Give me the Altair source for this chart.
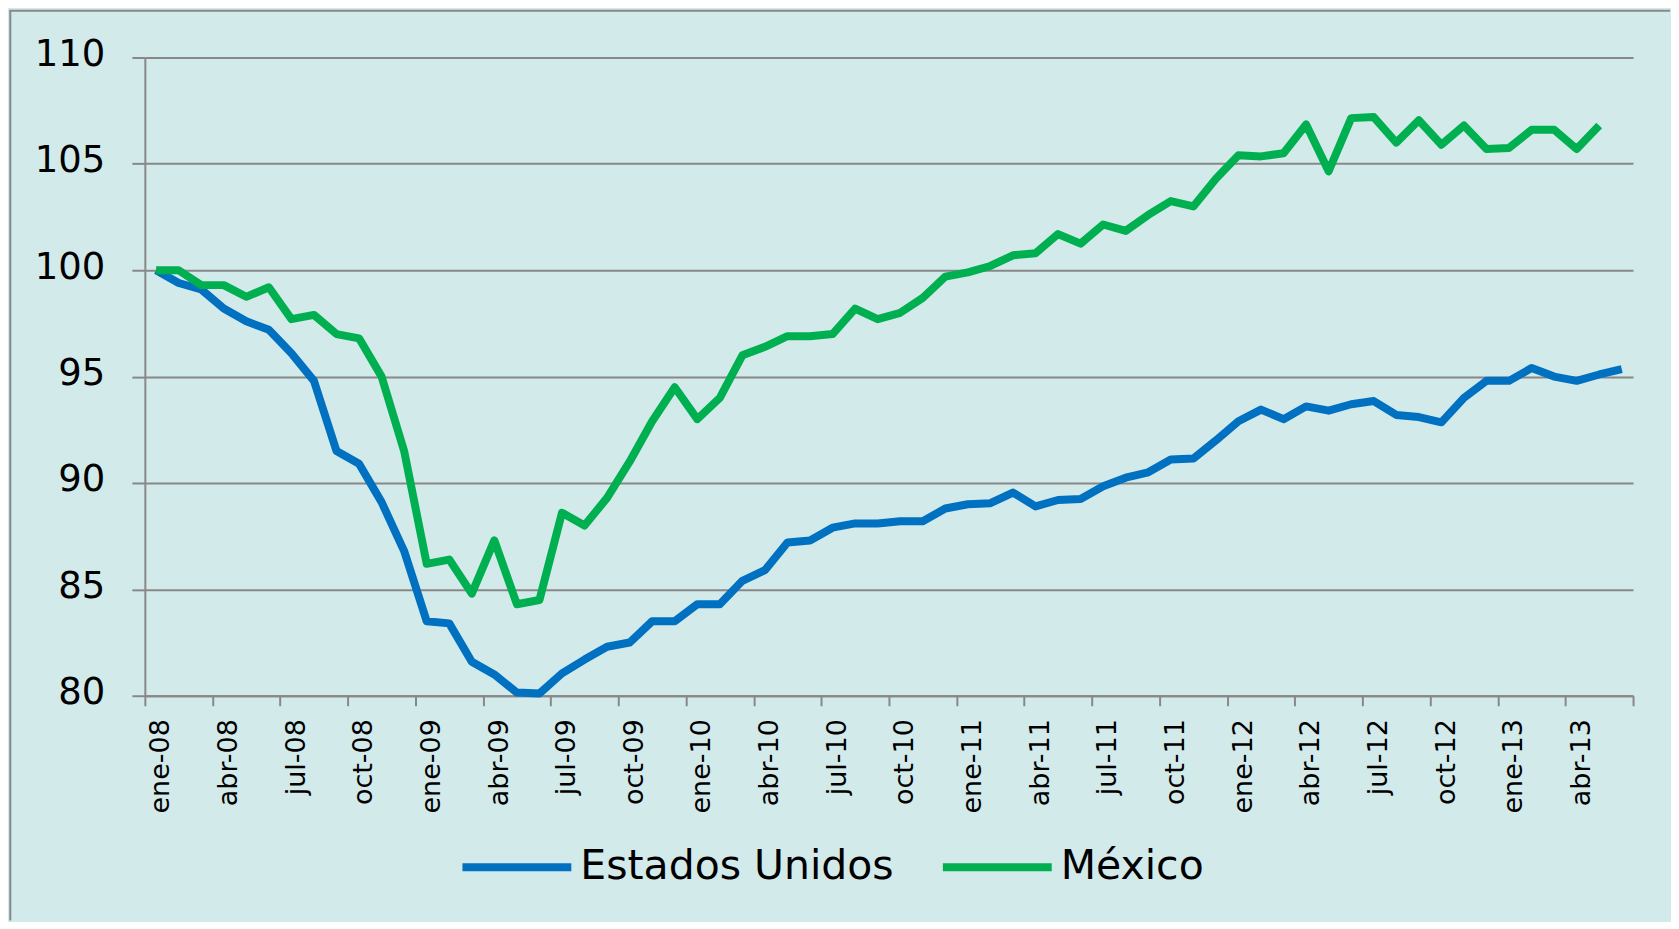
import json
import altair as alt
import pandas as pd

# ---- data -------------------------------------------------------------
meses = ["ene", "feb", "mar", "abr", "may", "jun", "jul", "ago", "sep", "oct", "nov", "dic"]
periodos = [f"{m}-{a:02d}" for a in range(8, 14) for m in meses][:66]

etiquetas_x = ["ene-08", "abr-08", "jul-08", "oct-08", "ene-09", "abr-09", "jul-09", "oct-09",
               "ene-10", "abr-10", "jul-10", "oct-10", "ene-11", "abr-11", "jul-11", "oct-11",
               "ene-12", "abr-12", "jul-12", "oct-12", "ene-13", "abr-13"]

estados_unidos = [100.0, 99.4, 99.1, 98.2, 97.6, 97.2, 96.1, 94.8, 91.5, 90.9,
                  89.1, 86.8, 83.5, 83.4, 81.6, 81.0, 80.15, 80.1, 81.05, 81.7,
                  82.3, 82.5, 83.5, 83.5, 84.3, 84.3, 85.4, 85.9, 87.2, 87.3,
                  87.9, 88.1, 88.1, 88.2, 88.2, 88.8, 89.0, 89.05, 89.55, 88.9,
                  89.2, 89.25, 89.85, 90.25, 90.5, 91.1, 91.15, 92.0, 92.9, 93.45,
                  93.0, 93.6, 93.4, 93.7, 93.85, 93.2, 93.1, 92.85, 94.0, 94.8,
                  94.8, 95.4, 95.0, 94.8, 95.1, 95.35]

mexico = [100.0, 100.0, 99.3, 99.3, 98.75, 99.2, 97.7, 97.9, 97.0, 96.8,
          95.0, 91.5, 86.2, 86.4, 84.8, 87.3, 84.3, 84.5, 88.6, 88.0,
          89.3, 91.0, 92.9, 94.5, 93.0, 94.0, 96.0, 96.4, 96.9, 96.9,
          97.0, 98.2, 97.7, 98.0, 98.7, 99.7, 99.9, 100.2, 100.7, 100.8,
          101.7, 101.25, 102.15, 101.85, 102.6, 103.25, 103.0, 104.3, 105.4, 105.35,
          105.5, 106.85, 104.65, 107.15, 107.2, 106.0, 107.05, 105.9, 106.8, 105.7,
          105.75, 106.6, 106.6, 105.7, 106.8]

series = ["Estados Unidos", "México"]
colores = ["#0070C0", "#00B050"]
valores_y = [80, 85, 90, 95, 100, 105, 110]

rows = []
for nombre, vals in zip(series, [estados_unidos, mexico]):
    for i, v in enumerate(vals):
        rows.append({"serie": nombre, "periodo": periodos[i], "pos": i + 0.5, "valor": v})
df = pd.DataFrame(rows)

GRIS = "#888888"
FUENTE = "DejaVu Sans"
n = len(periodos)

label_expr = f"datum.value < {n} ? {json.dumps(etiquetas_x)}[round(datum.value / 3)] : ''"

lineas = alt.Chart(df).mark_line(strokeWidth=8, strokeJoin="round").encode(
    x=alt.X("pos:Q",
            scale=alt.Scale(domain=[0, n], nice=False, zero=False),
            axis=alt.Axis(values=list(range(0, n + 1, 3)), labelExpr=label_expr,
                          labelAngle=270, labelFontSize=27, labelFont=FUENTE,
                          labelColor="black", tickSize=10, tickWidth=2, tickColor=GRIS,
                          domainColor=GRIS, domainWidth=2, grid=False, labelOffset=16,
                          labelPadding=13, labelFlush=False, labelOverlap=False,
                          labelBound=False),
            title=None),
    y=alt.Y("valor:Q",
            scale=alt.Scale(domain=[80, 110], nice=False, zero=False),
            axis=alt.Axis(values=valores_y, grid=True, gridColor=GRIS, gridWidth=2,
                          tickSize=13, tickWidth=2, tickColor=GRIS, domainColor=GRIS,
                          domainWidth=2, labelFontSize=37, labelFont=FUENTE,
                          labelColor="black", labelPadding=27, labelOffset=-3),
            title=None),
    color=alt.Color("serie:N",
                    scale=alt.Scale(domain=series, range=colores),
                    legend=alt.Legend(orient="none", legendX=314, legendY=752,
                                      direction="horizontal", symbolType="stroke",
                                      symbolSize=11881, symbolStrokeWidth=8,
                                      labelFontSize=41, labelFont=FUENTE,
                                      labelColor="black", columnPadding=33,
                                      labelOffset=5, padding=0, labelLimit=1000,
                                      title=None)),
    order=alt.Order("pos:Q"),
)

marco = pd.DataFrame({"k": [0]})
borde_izq = alt.Chart(marco).mark_rule(color=GRIS, strokeWidth=2).encode(
    x=alt.value(-134.7), y=alt.value(-46.7), y2=alt.value(864))
borde_sup = alt.Chart(marco).mark_rule(color=GRIS, strokeWidth=2).encode(
    x=alt.value(-135.7), x2=alt.value(1527), y=alt.value(-46.7))

chart = alt.layer(borde_izq, borde_sup, lineas).properties(
    width=1490, height=639,
    padding={"left": 0, "top": 1, "right": 0, "bottom": 0},
).configure(background="#D3EAEB").configure_view(stroke="transparent")

chart.save("out.html", embed_options={"renderer": "svg", "actions": False})
